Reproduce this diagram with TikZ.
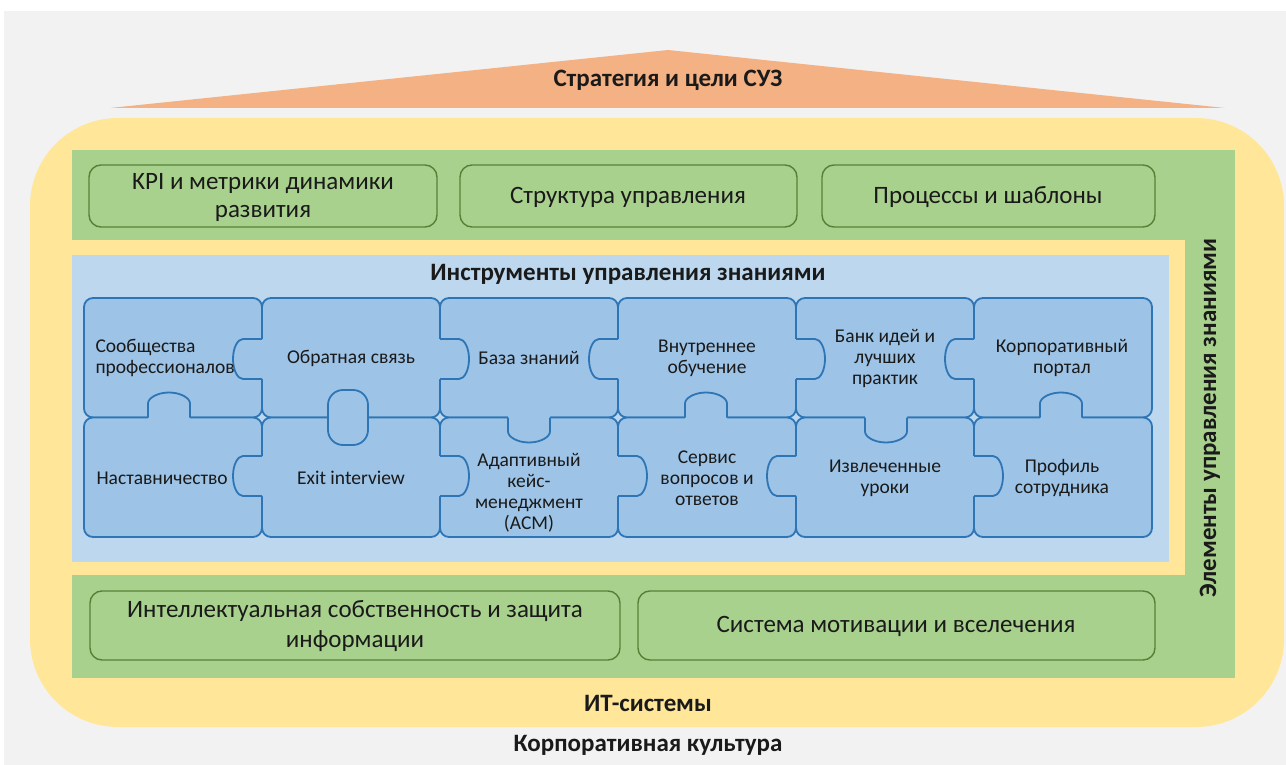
\documentclass[tikz,border=0pt]{standalone}
\usepackage{fontspec}
\setmainfont{Carlito}
\definecolor{bggray}{HTML}{F2F2F2}
\definecolor{roof}{HTML}{F4B183}
\definecolor{ylw}{HTML}{FFE699}
\definecolor{grn}{HTML}{A9D18E}
\definecolor{grnline}{HTML}{548235}
\definecolor{ltblue}{HTML}{BDD7EE}
\definecolor{pzfill}{HTML}{9DC3E6}
\definecolor{pzline}{HTML}{2E75B6}
\definecolor{txt}{HTML}{1A1A1A}
\tikzset{
  greenbox/.style={draw=grnline, fill=grn, line width=1.4pt, rounded corners=12pt},
  piece/.style={draw=pzline, fill=pzfill, line width=1.8pt, rounded corners=9pt},
  pzf/.style={fill=pzfill},
  pzs/.style={draw=pzline, line width=1.8pt, line join=round},
  boxtext/.style={text=txt, align=center, font=\fontsize{25}{28}\selectfont},
  pztext/.style={text=txt, align=center, font=\fontsize{19.5}{21}\selectfont},
  headtext/.style={text=txt, align=center, font=\fontsize{25}{28}\selectfont\bfseries},
}
% horizontal tab across vertical boundary X at height Y, direction d (+1 right, -1 left)
\newcommand\HTab[3]{%
  \pgfmathsetmacro\tXa{#1+#3*19}%
  \pgfmathsetmacro\tXb{#1+#3*24.5}%
  \pgfmathsetmacro\tXc{#1+#3*29}%
  \pgfmathsetmacro\tXf{#1-#3*1.6}%
  \fill[pzf] (\tXf,#2-20) -- (\tXa,#2-20) .. controls (\tXb,#2-20) and (\tXc,#2-11) .. (\tXc,#2)
     .. controls (\tXc,#2+11) and (\tXb,#2+20) .. (\tXa,#2+20) -- (\tXf,#2+20) -- cycle;
  \draw[pzs] (#1,#2-20) -- (\tXa,#2-20) .. controls (\tXb,#2-20) and (\tXc,#2-11) .. (\tXc,#2)
     .. controls (\tXc,#2+11) and (\tXb,#2+20) .. (\tXa,#2+20) -- (#1,#2+20);
}
% vertical tab across horizontal boundary Y at x X, direction d (+1 down, -1 up)
\newcommand\VTab[3]{%
  \pgfmathsetmacro\tYa{#2+#3*14}%
  \pgfmathsetmacro\tYb{#2+#3*19.5}%
  \pgfmathsetmacro\tYc{#2+#3*25}%
  \pgfmathsetmacro\tYf{#2-#3*1.6}%
  \fill[pzf] (#1-21,\tYf) -- (#1-21,\tYa) .. controls (#1-21,\tYb) and (#1-11.5,\tYc) .. (#1,\tYc)
     .. controls (#1+11.5,\tYc) and (#1+21,\tYb) .. (#1+21,\tYa) -- (#1+21,\tYf) -- cycle;
  \draw[pzs] (#1-21,#2) -- (#1-21,\tYa) .. controls (#1-21,\tYb) and (#1-11.5,\tYc) .. (#1,\tYc)
     .. controls (#1+11.5,\tYc) and (#1+21,\tYb) .. (#1+21,\tYa) -- (#1+21,#2);
}
\begin{document}
\begin{tikzpicture}[x=1pt,y=-1pt]
\useasboundingbox (0,0) rectangle (1286,765);
\fill[white] (0,0) rectangle (1286,765);
\fill[bggray] (4,11) rectangle (1286,765);

% roof
\fill[roof] (110,108) -- (668,50) -- (1225,108) -- cycle;
\node[headtext] (roofT) at (668,80) {Стратегия и цели СУЗ};

% yellow base (IT systems)
\fill[ylw, rounded corners=88pt] (30,118) rectangle (1284,727);
% green frame
\fill[grn] (72,150) rectangle (1235,678);
% yellow inner frame
\fill[ylw] (72,240) rectangle (1185,575);
% blue area
\fill[ltblue] (72,255) rectangle (1169,562);

% top green boxes
\draw[greenbox] (89,165) rectangle (437,227);
\node[boxtext] (kpi) at (263,197) {KPI и метрики динамики\\развития};
\draw[greenbox] (460,165) rectangle (797,227);
\node[boxtext] (struct) at (628,197) {Структура управления};
\draw[greenbox] (822,165) rectangle (1155,227);
\node[boxtext] (proc) at (988,197) {Процессы и шаблоны};

% bottom green boxes
\draw[greenbox] (90,591) rectangle (620,660);
\node[boxtext, font=\fontsize{25}{30}\selectfont] (ip) at (355,626) {Интеллектуальная собственность и защита\\информации};
\draw[greenbox] (638,591) rectangle (1155,660);
\node[boxtext] (motiv) at (896,626) {Система мотивации и вселечения};

% title
\node[headtext] (tools) at (628,274) {Инструменты управления знаниями};

% puzzle pieces
\foreach \c in {0,...,5}{
  \pgfmathsetmacro\xl{84+178*\c}
  \pgfmathsetmacro\xr{84+178*(\c+1)}
  \draw[piece] (\xl,298) rectangle (\xr,417.5);
  \draw[piece] (\xl,417.5) rectangle (\xr,537);
}
% tabs row 1 (vertical boundaries)
\HTab{262}{359}{-1}
\HTab{440}{359}{1}
\HTab{618}{359}{-1}
\HTab{796}{359}{1}
\HTab{974}{359}{-1}
% tabs row 2
\HTab{262}{476}{-1}
\HTab{440}{476}{1}
\HTab{618}{476}{1}
\HTab{796}{476}{-1}
\HTab{974}{476}{1}
% tabs across middle boundary
\VTab{169}{417.5}{-1}
\VTab{529}{417.5}{1}
\VTab{706}{417.5}{-1}
\VTab{886}{417.5}{1}
\VTab{1061}{417.5}{-1}
% stadium in column 2
\fill[pzf] (328,392) rectangle (368,444);
\draw[pzs, rounded corners=15pt] (328,390) rectangle (368,445);

% puzzle texts
\node[pztext, align=left, anchor=west] (p1) at (92,358) {Сообщества\\профессионалов};
\node[pztext] (p2) at (351,358) {Обратная связь};
\node[pztext] (p3) at (529,358) {База знаний};
\node[pztext] (p4) at (707,358) {Внутреннее\\обучение};
\node[pztext] (p5) at (885,358) {Банк идей и\\лучших\\практик};
\node[pztext] (p6) at (1062,358) {Корпоративный\\портал};
\node[pztext, anchor=west] (p7) at (93,478) {Наставничество};
\node[pztext] (p8) at (351,478) {Exit interview};
\node[pztext] (p9) at (529,493) {Адаптивный\\кейс-\\менеджмент\\(ACM)};
\node[pztext] (p10) at (707,478) {Сервис\\вопросов и\\ответов};
\node[pztext] (p11) at (885,478) {Извлеченные\\уроки};
\node[pztext] (p12) at (1062,478) {Профиль\\сотрудника};

% side label
\node[headtext, rotate=90] (elem) at (1210,418) {Элементы управления знаниями};

% bottom labels
\node[headtext] (it) at (648,703) {ИТ-системы};
\node[headtext] (cult) at (648,745) {Корпоративная культура};
\end{tikzpicture}
\end{document}
